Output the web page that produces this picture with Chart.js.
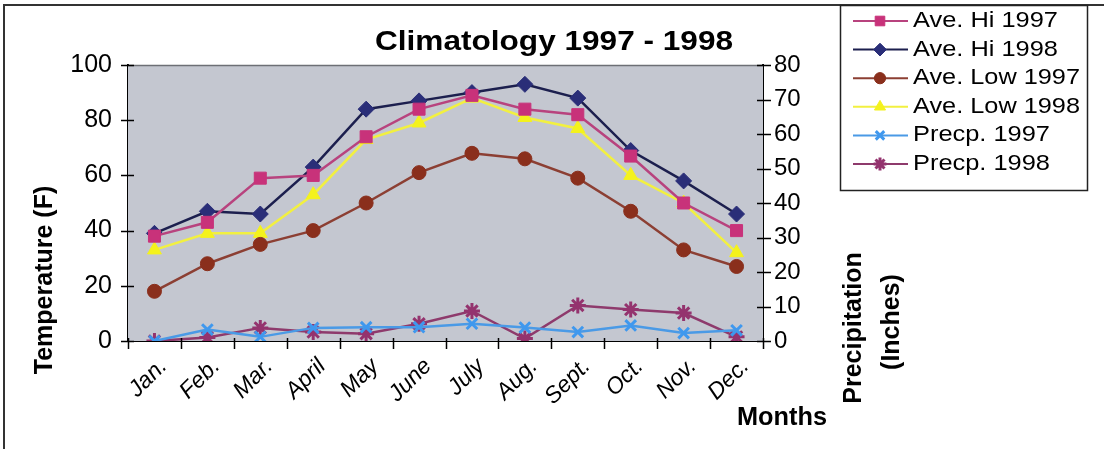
<!DOCTYPE html>
<html>
<head>
<meta charset="utf-8">
<script src="https://cdn.jsdelivr.net/npm/chart.js@4/dist/chart.umd.min.js"></script>
<style>
  html, body { margin: 0; padding: 0; background: #ffffff; }
  #wrap { width: 1104px; height: 449px; }
</style>
</head>
<body>
<div id="wrap"><canvas id="c" width="1104" height="449"></canvas></div>
<script>
// Monthly climatology, 1997 and 1998
const months = ['Jan.', 'Feb.', 'Mar.', 'April', 'May', 'June', 'July', 'Aug.', 'Sept.', 'Oct.', 'Nov.', 'Dec.'];

// Average temperatures (F)
const aveHi1997  = [38, 43, 59, 60, 74, 84, 89, 84, 82, 67, 50, 40];
const aveHi1998  = [39, 47, 46, 63, 84, 87, 90, 93, 88, 69, 58, 46];
const aveLow1997 = [18, 28, 35, 40, 50, 61, 68, 66, 59, 47, 33, 27];
const aveLow1998 = [33, 39, 39, 53, 73, 79, 88, 81, 77, 60, 50, 32];

// Precipitation (inches)
const precp1997 = [0, 3.3, 1.2, 3.8, 4.0, 4.0, 5.0, 3.9, 2.6, 4.5, 2.3, 3.1];
const precp1998 = [0, 1.0, 3.8, 2.6, 2.1, 5.0, 8.7, 0.7, 10.3, 9.1, 8.1, 1.2];

// Axis tick settings
const tempTicks = { min: 0, max: 100, step: 20 };
const precipTicks = { min: 0, max: 80, step: 10 };

const FONT = "'Liberation Sans', Arial, sans-serif";

function series(label, data, color, style, radius, axis, lineColor) {
  return {
    label, data, yAxisID: axis,
    borderColor: lineColor || color,
    backgroundColor: color,
    pointBackgroundColor: color,
    pointBorderColor: color,
    pointStyle: style,
    pointRadius: radius,
    pointHoverRadius: radius,
    pointBorderWidth: (style === 'crossRot' || style === 'star') ? 3 : 1,
    borderWidth: 2.5,
    tension: 0,
    fill: false
  };
}

const datasets = [
  series('Ave. Hi 1997',  aveHi1997,  '#c8327a', 'rect',     8.5, 'y',  '#b8437e'),
  series('Ave. Hi 1998',  aveHi1998,  '#2a2e78', 'rectRot',  8,   'y',  '#1c1f4e'),
  series('Ave. Low 1997', aveLow1997, '#8a2f1c', 'circle',   7,   'y',  '#8c3f33'),
  series('Ave. Low 1998', aveLow1998, '#f4f21c', 'triangle', 8,   'y',  '#f2f040'),
  series('Precp. 1997',   precp1997,  '#3f98ee', 'crossRot', 7.5, 'y1', '#4a9ae6'),
  series('Precp. 1998',   precp1998,  '#94336e', 'star',     8,   'y1', '#8e3a6c')
];

// Draws text with optional horizontal fitting to a target width
function fitText(ctx, text, x, y, font, opts) {
  opts = opts || {};
  ctx.save();
  ctx.font = font;
  ctx.fillStyle = opts.color || '#000';
  ctx.textAlign = opts.align || 'center';
  ctx.textBaseline = 'middle';
  ctx.translate(x, y);
  if (opts.rotation) ctx.rotate(opts.rotation);
  if (opts.width) {
    const w = ctx.measureText(text).width;
    ctx.scale(opts.width / w, 1);
  }
  ctx.fillText(text, 0, 0);
  ctx.restore();
}

const legendTextWidth = { 'Ave. Hi 1997': 145, 'Ave. Hi 1998': 145, 'Ave. Low 1997': 167, 'Ave. Low 1998': 167, 'Precp. 1997': 137, 'Precp. 1998': 137 };

const decorPlugin = {
  id: 'decor',
  beforeDatasetsDraw(chart) {
    const { ctx, chartArea: a } = chart;
    ctx.save();
    ctx.fillStyle = '#c4c7d0';
    ctx.fillRect(a.left, a.top, a.right - a.left, a.bottom - a.top);
    ctx.strokeStyle = '#6d6f75';
    ctx.lineWidth = 1.5;
    ctx.beginPath();
    ctx.moveTo(a.left, a.top + 0.5);
    ctx.lineTo(a.right, a.top + 0.5);
    ctx.stroke();
    ctx.restore();
  },
  afterDraw(chart) {
    const { ctx, chartArea: a, scales } = chart;
    ctx.save();
    ctx.strokeStyle = '#000';
    ctx.lineWidth = 1.5;
    ctx.beginPath();
    // crossing tick marks on the temperature axis
    scales.y.ticks.forEach(t => {
      const py = Math.round(scales.y.getPixelForValue(t.value)) + 0.5;
      ctx.moveTo(a.left - 7, py); ctx.lineTo(a.left + 6, py);
    });
    // crossing tick marks on the precipitation axis
    scales.y1.ticks.forEach(t => {
      const py = Math.round(scales.y1.getPixelForValue(t.value)) + 0.5;
      ctx.moveTo(a.right - 6, py); ctx.lineTo(a.right + 8, py);
    });
    // category boundary ticks on the month axis
    const n = months.length;
    for (let i = 0; i <= n; i++) {
      const px = Math.round(scales.x.getPixelForValue(i - 0.5)) + 0.5;
      ctx.moveTo(px, a.bottom - 3); ctx.lineTo(px, a.bottom + 8);
    }
    ctx.stroke();

    // outer frame
    ctx.strokeStyle = '#333';
    ctx.lineWidth = 2;
    ctx.beginPath();
    ctx.moveTo(4, 449); ctx.lineTo(4, 5); ctx.lineTo(1104, 5);
    ctx.stroke();
    ctx.restore();

    // title and axis titles
    fitText(ctx, 'Climatology 1997 - 1998', 554, 42, `bold 28px ${FONT}`, { width: 358 });
    fitText(ctx, 'Temperature (F)', 45, 280, `bold 25px ${FONT}`, { rotation: -Math.PI / 2 });
    fitText(ctx, 'Precipitation', 854, 328, `bold 25px ${FONT}`, { rotation: -Math.PI / 2 });
    fitText(ctx, '(Inches)', 892, 322, `bold 25px ${FONT}`, { rotation: -Math.PI / 2 });
    fitText(ctx, 'Months', 782, 418, `bold 26px 'Liberation Sans Narrow', ${FONT}`, { width: 90 });

    // legend box
    const lx = 840, ly = 5, lw = 247, lh = 185;
    ctx.save();
    ctx.fillStyle = '#fff';
    ctx.fillRect(lx, ly, lw, lh);
    ctx.strokeStyle = '#222';
    ctx.lineWidth = 1.5;
    ctx.strokeRect(lx + 0.5, ly + 0.5, lw, lh);
    ctx.restore();
    chart.data.datasets.forEach((ds, i) => {
      const yy = 21 + i * 28.6;
      ctx.save();
      ctx.strokeStyle = ds.borderColor;
      ctx.lineWidth = 2;
      ctx.beginPath();
      ctx.moveTo(853, yy); ctx.lineTo(908, yy);
      ctx.stroke();
      ctx.fillStyle = ds.pointBackgroundColor;
      ctx.strokeStyle = ds.pointBorderColor;
      ctx.lineWidth = ds.pointBorderWidth;
      const r = ds.pointRadius * 0.8;
      Chart.helpers.drawPoint(ctx, { pointStyle: ds.pointStyle, radius: r, rotation: 0, borderWidth: ds.pointBorderWidth }, 880, yy);
      ctx.restore();
      fitText(ctx, ds.label, 913, yy, `22px ${FONT}`, { align: 'left', width: legendTextWidth[ds.label] });
    });
  }
};

new Chart(document.getElementById('c'), {
  type: 'line',
  data: { labels: months, datasets },
  options: {
    responsive: false,
    devicePixelRatio: 1,
    animation: false,
    layout: { padding: { top: 65, left: 0, right: 0, bottom: 0 } },
    plugins: { legend: { display: false }, title: { display: false }, tooltip: { enabled: false } },
    scales: {
      x: {
        type: 'category',
        offset: true,
        grid: { display: false, drawTicks: false },
        border: { display: true, color: '#000', width: 2 },
        ticks: {
          color: '#000',
          font: { family: FONT, size: 23, style: 'italic' },
          minRotation: 45, maxRotation: 45,
          padding: 12,
          labelOffset: 9,
          autoSkip: false
        },
        afterFit(s) { s.height = 108; }
      },
      y: {
        position: 'left',
        min: tempTicks.min, max: tempTicks.max,
        grid: { display: false, drawTicks: false },
        border: { display: true, color: '#000', width: 2 },
        ticks: { stepSize: tempTicks.step, color: '#000', font: { family: FONT, size: 25 }, padding: 16 },
        afterFit(s) { s.width = 128; }
      },
      y1: {
        position: 'right',
        min: precipTicks.min, max: precipTicks.max,
        grid: { display: false, drawTicks: false },
        border: { display: true, color: '#000', width: 2 },
        ticks: { stepSize: precipTicks.step, color: '#000', font: { family: FONT, size: 24 }, padding: 11 },
        afterFit(s) { s.width = 341; }
      }
    }
  },
  plugins: [decorPlugin]
});
</script>
</body>
</html>
